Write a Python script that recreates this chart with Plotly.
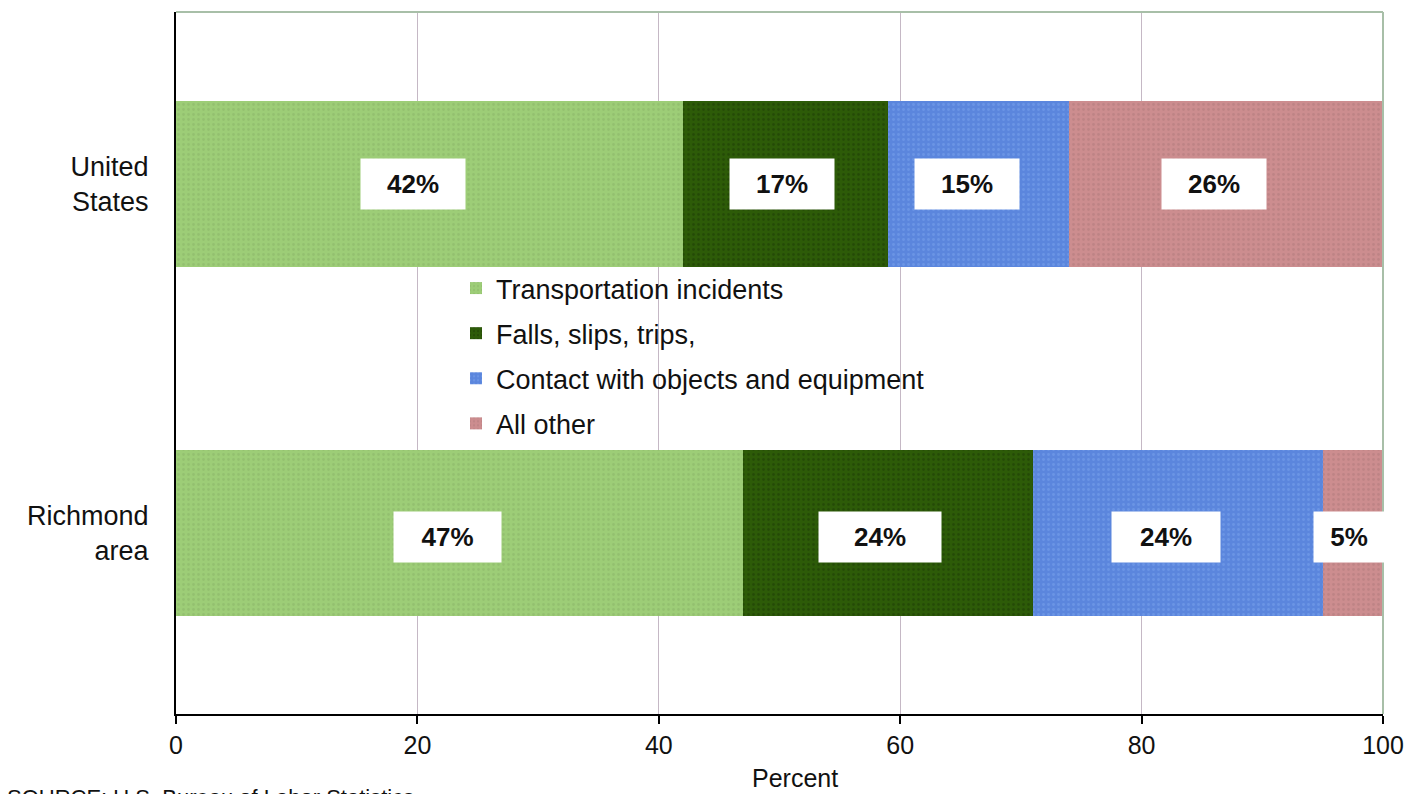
import plotly.graph_objects as go

# ---- data ----
regions = ["Richmond area", "United States"]
region_ticktext = ["Richmond<br>area", "United<br>States"]
region_pos = [0, 1]
series_names = ["Transportation incidents", "Falls, slips, trips,",
                "Contact with objects and equipment", "All other"]
transportation = [47, 42]
falls = [24, 17]
contact = [24, 15]
all_other = [5, 26]
series_values = [transportation, falls, contact, all_other]
x_ticks = [0, 20, 40, 60, 80, 100]

# ---- styles ----
colors = ["#9dcd77", "#2d5b08", "#5b86dd", "#cc8d8f"]
dot_colors = ["#8ab468", "#1c3a05", "#7aa3ec", "#b07a7c"]
label_widths = [[105, 102], [120, 102], [106, 102], [68, 102]]
label_xshift = [[-12, -16], [-8, -4], [-12, -12], [-4, -12]]
FONT = "Liberation Sans, Arial, sans-serif"

fig = go.Figure()
for i, (name, vals) in enumerate(zip(series_names, series_values)):
    fig.add_trace(go.Bar(
        y=region_pos, x=vals, name=name, orientation="h",
        width=0.476, legendgroup=name,
        marker=dict(color=colors[i], line=dict(width=0),
                    pattern=dict(shape=".", size=5, solidity=0.25,
                                 fgcolor=dot_colors[i], bgcolor=colors[i])),
        hoverinfo="x+name",
    ))

# data labels in white boxes, centered on each segment
for ri, pos in enumerate(region_pos):
    base = 0
    for si, vals in enumerate(series_values):
        v = vals[ri]
        fig.add_annotation(
            x=base + v / 2, y=pos, xref="x", yref="y",
            text=f"<b>{v}%</b>", showarrow=False,
            font=dict(family=FONT, size=26, color="#111111"),
            bgcolor="white", width=label_widths[si][ri], height=48,
            xshift=label_xshift[si][ri], yshift=(-4 if pos == 0 else 0),
            align="center", valign="middle",
        )
        base += v

# top & right plot border (grey-green)
fig.add_shape(type="line", xref="paper", yref="paper", x0=0, x1=1, y0=1, y1=1,
              line=dict(color="#a8bfa8", width=2))
fig.add_shape(type="line", xref="paper", yref="paper", x0=1, x1=1, y0=0, y1=1,
              line=dict(color="#a8bfa8", width=2))

# x-axis title (slightly right of centre, as in the reference)
fig.add_annotation(
    x=0.513, y=-0.0915, xref="paper", yref="paper",
    xanchor="center", yanchor="middle", showarrow=False,
    text="Percent", font=dict(family=FONT, size=25, color="#111111"),
)

# source note, clipped at bottom edge
fig.add_annotation(
    x=-171 / 1207, y=-0.099, xref="paper", yref="paper",
    xanchor="left", yanchor="top", showarrow=False,
    text="SOURCE: U.S. Bureau of Labor Statistics",
    font=dict(family=FONT, size=22, color="#111111"),
)

fig.update_layout(
    width=1424, height=794,
    margin=dict(l=176, r=41, t=12, b=80),
    paper_bgcolor="white", plot_bgcolor="white",
    barmode="stack", bargap=0,
    showlegend=True,
    legend=dict(
        x=0.232, y=0.641, xanchor="left", yanchor="top",
        traceorder="grouped", tracegroupgap=7,
        font=dict(family=FONT, size=27, color="#111111"),
        bgcolor="rgba(0,0,0,0)", itemwidth=30,
    ),
    font=dict(family=FONT, color="#111111"),
    xaxis=dict(
        range=[0, 100], tickvals=x_ticks, showgrid=True, gridcolor="#c5b8c5",
        gridwidth=1, showline=True, linecolor="black", linewidth=2,
        ticks="outside", ticklen=8, tickcolor="black", tickwidth=2,
        tickfont=dict(family=FONT, size=25, color="#111111"),
        zeroline=False,
    ),
    yaxis=dict(
        range=[-0.519, 1.493], tickvals=region_pos, ticktext=region_ticktext,
        showgrid=False, zeroline=False, showline=True, linecolor="black",
        linewidth=2, ticks="", ticklabelstandoff=20,
        tickfont=dict(family=FONT, size=27, color="#111111"),
    ),
)

fig.write_html("out.html")
